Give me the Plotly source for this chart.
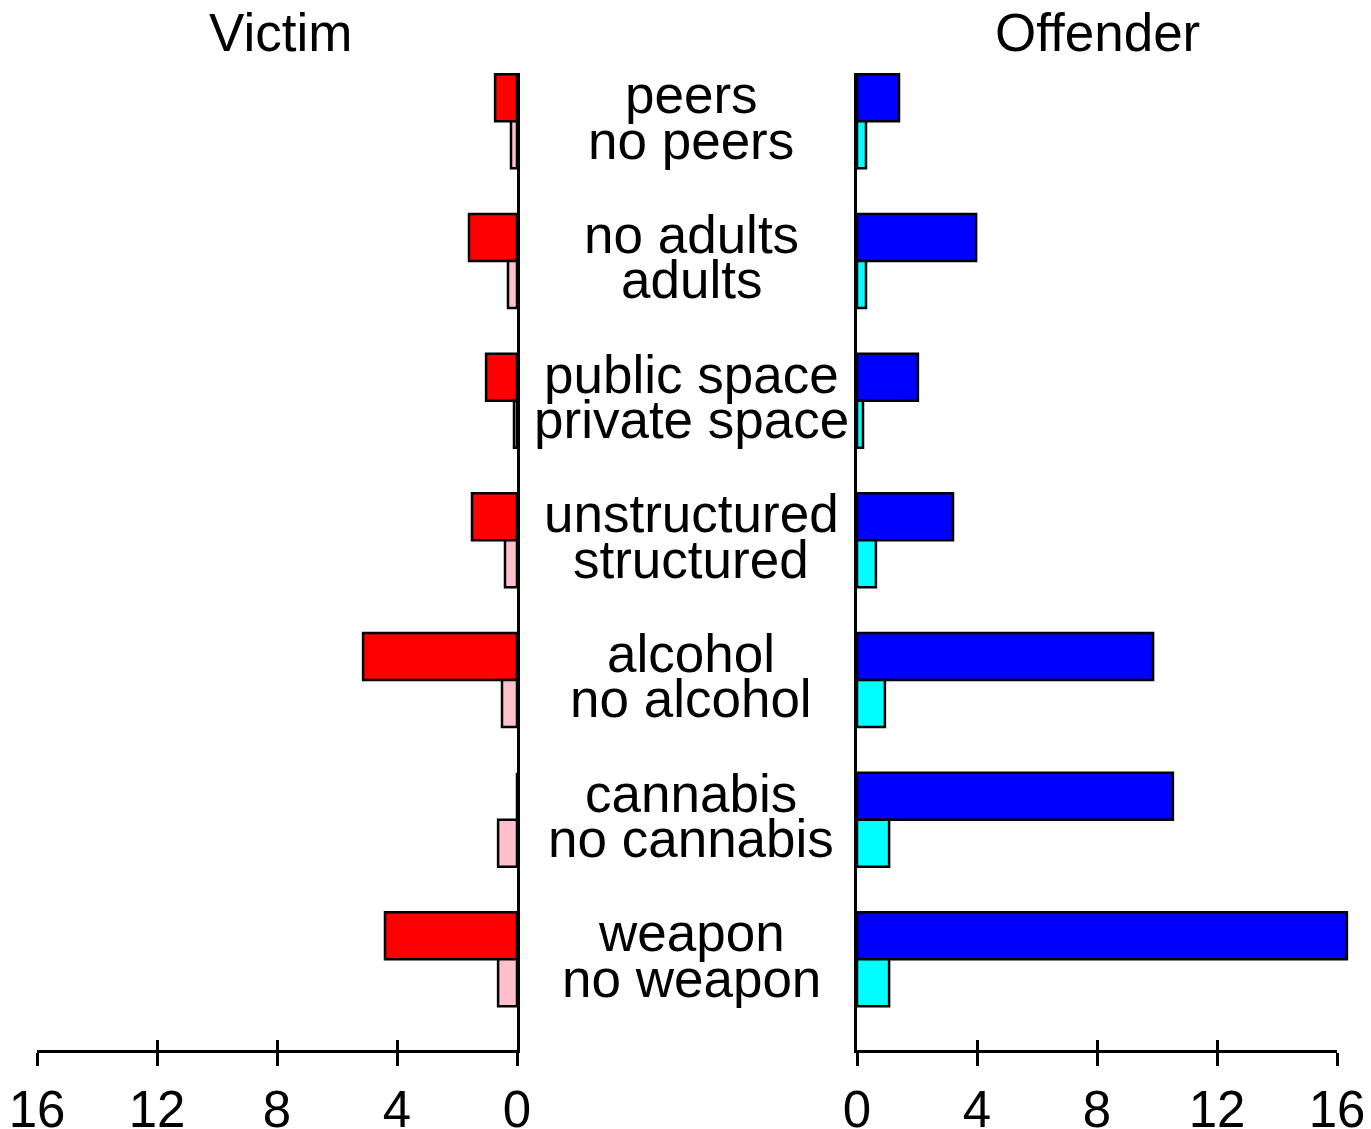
import plotly.graph_objects as go

# ---- data ----
labels_top = ["peers", "no adults", "public space", "unstructured", "alcohol", "cannabis", "weapon"]
labels_bottom = ["no peers", "adults", "private space", "structured", "no alcohol", "no cannabis", "no weapon"]
victim_top = [0.73, 1.6, 1.03, 1.5, 5.13, 0.0, 4.4]
victim_bottom = [0.2, 0.3, 0.1, 0.4, 0.5, 0.63, 0.63]
offender_top = [1.4, 3.97, 2.03, 3.2, 9.87, 10.53, 16.33]
offender_bottom = [0.3, 0.3, 0.2, 0.63, 0.93, 1.07, 1.07]
tick_vals = [0, 4, 8, 12, 16]
panel_titles = ["Victim", "Offender"]

W, H = 1371, 1129
OFF = 8  # page body margin
FONT = "Liberation Sans, Arial, sans-serif"
FS = 53
TFS = 51
LW = 2.5


def fx(p):
    return (p - OFF) / W


def fy(p):
    return 1 - (p - OFF) / H


ydom = [fy(1050), fy(73)]
yrange = [6.649, -0.346]
cats = labels_top

fig = go.Figure()

# Victim bars (left panel)
fig.add_trace(go.Bar(y=cats, x=victim_top, orientation="h", xaxis="x", yaxis="y",
                     marker=dict(color="#FF0000", line=dict(color="black", width=LW)),
                     showlegend=False, hoverinfo="skip"))
fig.add_trace(go.Bar(y=cats, x=victim_bottom, orientation="h", xaxis="x", yaxis="y",
                     marker=dict(color="#FFC0CB", line=dict(color="black", width=LW)),
                     showlegend=False, hoverinfo="skip"))
# Offender bars (right panel)
fig.add_trace(go.Bar(y=cats, x=offender_top, orientation="h", xaxis="x2", yaxis="y2",
                     marker=dict(color="#0000FF", line=dict(color="black", width=LW)),
                     showlegend=False, hoverinfo="skip"))
fig.add_trace(go.Bar(y=cats, x=offender_bottom, orientation="h", xaxis="x2", yaxis="y2",
                     marker=dict(color="#00FFFF", line=dict(color="black", width=LW)),
                     showlegend=False, hoverinfo="skip"))

# invisible traces to instantiate tick axes
for xa, ya in [("x3", "y"), ("x4", "y2"), ("x5", "y2")]:
    fig.add_trace(go.Scatter(x=[0], y=[cats[0]], xaxis=xa, yaxis=ya, mode="markers",
                             marker=dict(opacity=0), showlegend=False, hoverinfo="skip"))

tickfont = dict(family=FONT, size=TFS, color="black")
common_y = dict(type="category", range=yrange, domain=ydom, showgrid=False, zeroline=False,
                showticklabels=False, ticks="", showline=True, linecolor="black", linewidth=3,
                fixedrange=True, automargin=False)

fig.update_layout(
    width=W, height=H,
    margin=dict(l=0, r=0, t=0, b=0, autoexpand=False),
    paper_bgcolor="white", plot_bgcolor="rgba(0,0,0,0)",
    barmode="group", bargap=0.327, bargroupgap=0,
    xaxis=dict(domain=[fx(37), fx(517)], range=[16, 0], anchor="y", showgrid=False, zeroline=False,
               tickvals=tick_vals, ticks="outside", ticklen=13, tickwidth=3, tickcolor="black",
               showline=True, linecolor="black", linewidth=3, tickfont=tickfont, automargin=False),
    xaxis3=dict(overlaying="x", range=[16, 0], anchor="y", showgrid=False, zeroline=False,
                tickvals=tick_vals, ticks="inside", ticklen=10, tickwidth=3, tickcolor="black",
                showline=False, showticklabels=False, automargin=False),
    yaxis=dict(anchor="x", side="right", **common_y),
    xaxis2=dict(domain=[fx(857), fx(1367)], range=[0, 17], anchor="y2", showgrid=False, zeroline=False,
                showticklabels=False, ticks="", showline=False, automargin=False),
    xaxis4=dict(domain=[fx(857), fx(1337)], range=[0, 16], anchor="y2", showgrid=False, zeroline=False,
                tickvals=tick_vals, ticks="outside", ticklen=13, tickwidth=3, tickcolor="black",
                showline=True, linecolor="black", linewidth=3, tickfont=tickfont, automargin=False),
    xaxis5=dict(overlaying="x4", domain=[fx(857), fx(1337)], range=[0, 16], anchor="y2", showgrid=False,
                zeroline=False, tickvals=tick_vals, ticks="inside", ticklen=10, tickwidth=3,
                tickcolor="black", showline=False, showticklabels=False, automargin=False),
    yaxis2=dict(anchor="x2", side="left", **common_y),
)

annos = []
# panel titles
annos.append(dict(text=panel_titles[0], x=fx(280), y=fy(32), xref="paper", yref="paper",
                  showarrow=False, font=dict(family=FONT, size=FS, color="black"),
                  xanchor="center", yanchor="middle"))
annos.append(dict(text=panel_titles[1], x=fx(1097), y=fy(32), xref="paper", yref="paper",
                  showarrow=False, font=dict(family=FONT, size=FS, color="black"),
                  xanchor="center", yanchor="middle"))
for k, (t, b) in enumerate(zip(labels_top, labels_bottom)):
    annos.append(dict(text=t, x=fx(691), y=k - 0.19, xref="paper", yref="y", showarrow=False,
                      font=dict(family=FONT, size=FS, color="black"), xanchor="center", yanchor="middle"))
    annos.append(dict(text=b, x=fx(691), y=k + 0.135, xref="paper", yref="y", showarrow=False,
                      font=dict(family=FONT, size=FS, color="black"), xanchor="center", yanchor="middle"))
fig.update_layout(annotations=annos)

fig.write_html("out.html")
